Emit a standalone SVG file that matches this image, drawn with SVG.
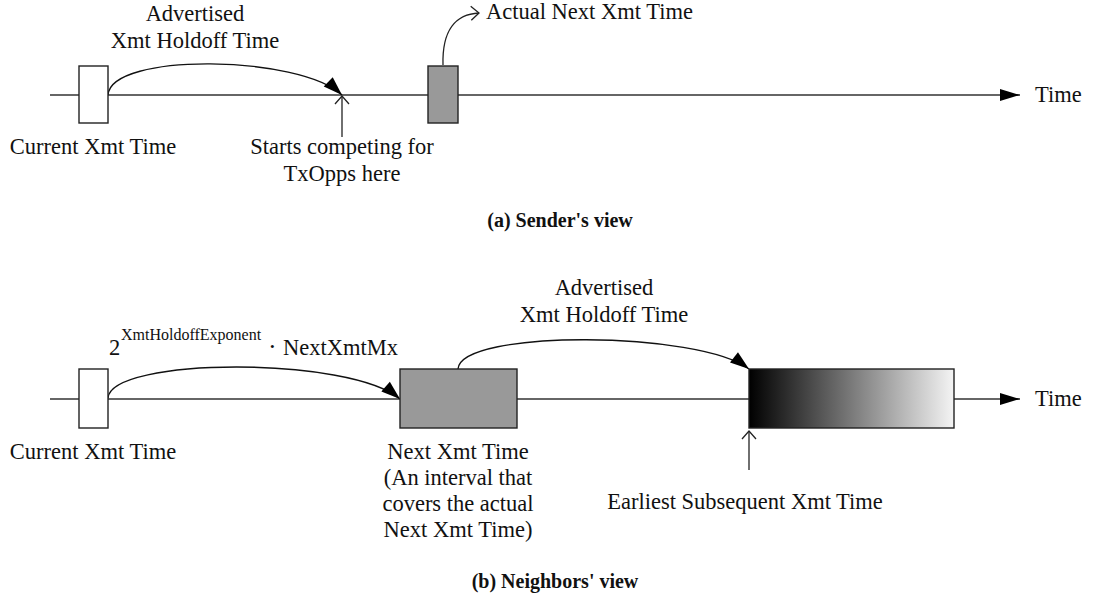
<svg xmlns="http://www.w3.org/2000/svg" width="1093" height="608" viewBox="0 0 1093 608">
  <style>
    text { font-family: "Liberation Serif", "Times New Roman", serif; font-size: 22.5px; fill: #111; }
    .mid { text-anchor: middle; }
    .cap { font-weight: bold; font-size: 20px; text-anchor: middle; }
    .sup { font-size: 16px; }
    .axis { stroke: #333; stroke-width: 1.5; fill: none; }
    .box { stroke: #222; stroke-width: 1.4; }
    .white { fill: #fff; }
    .grey { fill: #999; }
    .curve { stroke: #111; stroke-width: 1.4; fill: none; }
    .pointer { stroke: #222; stroke-width: 1.3; fill: none; }
  </style>
  <defs>
    <marker id="head-fill" markerUnits="userSpaceOnUse" markerWidth="22" markerHeight="14" refX="19" refY="6.5" orient="auto" overflow="visible">
      <path d="M0,0 L19,6.5 L0,13 Z" fill="#000"/>
    </marker>
    <marker id="head-axis" markerUnits="userSpaceOnUse" markerWidth="22" markerHeight="14" refX="20" refY="6" orient="auto" overflow="visible">
      <path d="M0,0 L20,6 L0,12 Z" fill="#000"/>
    </marker>
    <marker id="head-open" markerUnits="userSpaceOnUse" markerWidth="10" markerHeight="16" refX="8" refY="7" orient="auto" overflow="visible">
      <path d="M0,0 L8,7 L0,14" fill="none" stroke="#222" stroke-width="1.3"/>
    </marker>
    <linearGradient id="fade" x1="0" y1="0" x2="1" y2="0">
      <stop offset="0" stop-color="#000"/>
      <stop offset="1" stop-color="#f4f4f4"/>
    </linearGradient>
  </defs>

  <!-- time axes and arrows -->
  <g id="connectors">
    <line class="axis" x1="50" y1="95" x2="1020" y2="95" marker-end="url(#head-axis)"/>
    <line class="axis" x1="50" y1="399" x2="1020" y2="399" marker-end="url(#head-axis)"/>
    <!-- (a) holdoff span -->
    <path class="curve" d="M108,95 C111,52 300,55 342,95" marker-end="url(#head-fill)"/>
    <!-- (a) pointer to actual transmission -->
    <path class="pointer" d="M443,65 C442,30 456,14 479,13" marker-end="url(#head-open)"/>
    <!-- (a) start of competition -->
    <line class="pointer" x1="342" y1="137" x2="342" y2="96" marker-end="url(#head-open)"/>
    <!-- (b) exponent span -->
    <path class="curve" d="M108,398 C111,357 350,356 400,399" marker-end="url(#head-fill)"/>
    <!-- (b) holdoff span -->
    <path class="curve" d="M458,369 C461,329 700,331 749,369" marker-end="url(#head-fill)"/>
    <!-- (b) earliest subsequent -->
    <line class="pointer" x1="749" y1="470" x2="749" y2="431" marker-end="url(#head-open)"/>
  </g>

  <!-- (a) Sender's view -->
  <g id="a-current">
    <rect class="box white" x="79" y="66" width="29" height="57"/>
    <text class="mid" x="93" y="154">Current Xmt Time</text>
  </g>
  <g id="a-actual">
    <rect class="box grey" x="428" y="66" width="30" height="57"/>
    <text x="486" y="19">Actual Next Xmt Time</text>
  </g>
  <g id="a-holdoff-label">
    <text class="mid" x="195" y="21">Advertised</text>
    <text class="mid" x="195" y="48">Xmt Holdoff Time</text>
  </g>
  <g id="a-compete-label">
    <text class="mid" x="342" y="154">Starts competing for</text>
    <text class="mid" x="342" y="181">TxOpps here</text>
  </g>
  <g id="a-time">
    <text x="1035" y="102">Time</text>
  </g>
  <g id="a-caption">
    <text class="cap" x="560" y="227">(a) Sender's view</text>
  </g>

  <!-- (b) Neighbors' view -->
  <g id="b-current">
    <rect class="box white" x="79" y="369" width="29" height="59"/>
    <text class="mid" x="93" y="459">Current Xmt Time</text>
  </g>
  <g id="b-exponent-label">
    <text x="109" y="355">2</text>
    <text class="sup" x="121" y="340">XmtHoldoffExponent</text>
    <text x="268" y="355" style="font-size:26px">·</text>
    <text x="283" y="355">NextXmtMx</text>
  </g>
  <g id="b-next">
    <rect class="box grey" x="400" y="369" width="117" height="59"/>
    <text class="mid" x="458" y="459">Next Xmt Time</text>
    <text class="mid" x="458" y="485">(An interval that</text>
    <text class="mid" x="458" y="511">covers the actual</text>
    <text class="mid" x="458" y="537">Next Xmt Time)</text>
  </g>
  <g id="b-holdoff-label">
    <text class="mid" x="604" y="295">Advertised</text>
    <text class="mid" x="604" y="322">Xmt Holdoff Time</text>
  </g>
  <g id="b-earliest">
    <rect class="box" x="749" y="369" width="205" height="59" fill="url(#fade)"/>
    <text class="mid" x="745" y="509">Earliest Subsequent Xmt Time</text>
  </g>
  <g id="b-time">
    <text x="1035" y="406">Time</text>
  </g>
  <g id="b-caption">
    <text class="cap" x="555" y="588">(b) Neighbors' view</text>
  </g>
</svg>
